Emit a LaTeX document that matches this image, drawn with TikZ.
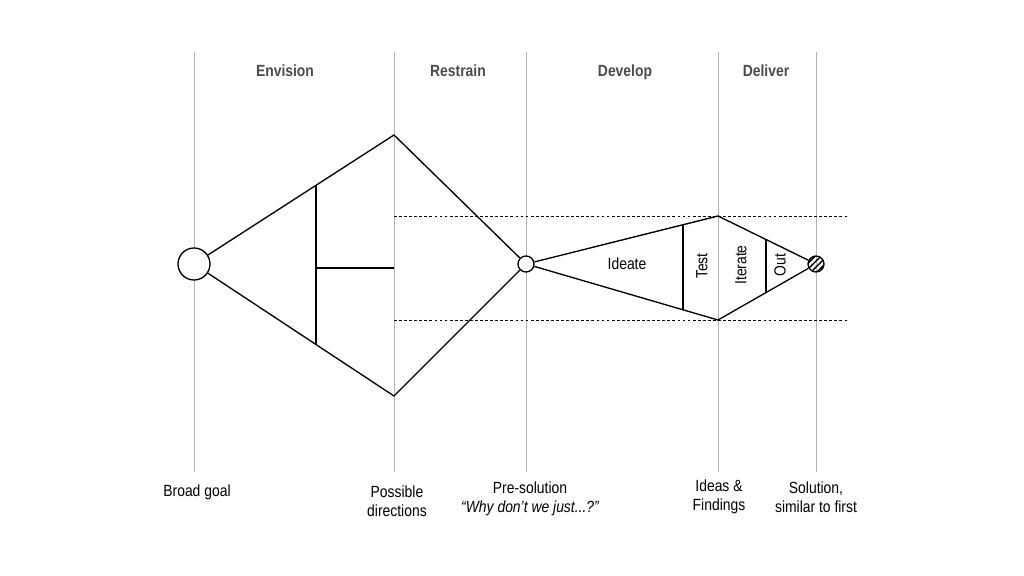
\documentclass[tikz,border=0pt]{standalone}
\usepackage{fontspec}
\setmainfont{Liberation Sans}[FakeStretch=0.86]
\usepackage{xcolor}
\usetikzlibrary{calc,positioning,patterns.meta}
\definecolor{guide}{HTML}{B4B4B4}
\definecolor{head}{HTML}{4A4A4A}

\begin{document}
\begin{tikzpicture}[x=0.025cm, y=-0.025cm,
        guideline/.style={guide, line width=0.7pt},
        edge/.style={black, line width=0.95pt},
        band/.style={black, line width=0.6pt, dash pattern=on 2pt off 1.6pt},
        phase/.style={head, anchor=base, font=\fontsize{11.5}{13}\selectfont\bfseries},
        caption/.style={align=center, font=\fontsize{11.5}{13.2}\selectfont},
        steplabel/.style={font=\fontsize{11.5}{13}\selectfont}]
        \useasboundingbox (0,0) rectangle (1024,576);

        % phase guides
        \foreach \gx/\gn in {194/g1, 394/g2, 526/g3, 718/g4, 816/g5}
            \draw [guideline] (\gx,52) coordinate (\gn top) -- (\gx,472) coordinate (\gn bot);
        \node [phase] (envision) at (285,77) {Envision};
        \node [phase] (restrain) at (458,77) {Restrain};
        \node [phase] (develop)  at (625,77) {Develop};
        \node [phase] (deliver)  at (766,77) {Deliver};

        % bands
        \draw [band] (394,216) coordinate (bandtl) -- (848,216) coordinate (bandtr);
        \draw [band] (394,320) coordinate (bandbl) -- (848,320) coordinate (bandbr);

        % big diamond
        \node [circle, draw, edge, fill=white, minimum size=32*0.025cm, inner sep=0pt] (goal) at (194,264) {};
        \node [circle, draw, edge, fill=white, minimum size=16*0.025cm, inner sep=0pt] (pre) at (526,264) {};
        \coordinate (bigtop) at (394,135);
        \coordinate (bigbot) at (394,396);
        \draw [edge] (goal) -- (bigtop) -- (pre) -- (bigbot) -- (goal);
        \draw [edge] ($(goal.center)!0.61!(bigtop)$) -- ($(goal.center)!0.61!(bigbot)$);
        \draw [edge] (316,268) -- (394,268);

        % small diamond
        \node [circle, draw, edge, inner sep=0pt, minimum size=16*0.025cm,
               pattern={Lines[angle=45, distance=3pt, line width=1.1pt]}] (sol) at (816,264) {};
        \coordinate (smalltop) at (718,216);
        \coordinate (smallbot) at (718,320);
        \draw [edge] (pre) -- (smalltop) -- (sol) -- (smallbot) -- (pre);
        \draw [edge] ($(pre.center)!0.818!(smalltop)$) -- ($(pre.center)!0.818!(smallbot)$);
        \draw [edge] ($(smalltop)!0.49!(sol.center)$) -- ($(smallbot)!0.49!(sol.center)$);
        \node [steplabel] (ideate) at (627,264) {Ideate};
        \node [steplabel, rotate=90] (test) at (702,266) {Test};
        \node [steplabel, rotate=90] (iterate) at (741,265) {Iterate};
        \node [steplabel, rotate=90] (out) at (780,265) {Out};

        % captions
        \node [caption] (broad) at (197,492) {Broad goal};
        \node [caption] (possible) at (397,501) {Possible\\directions};
        \node [caption] (presol) at (530,499) {Pre-solution\\\itshape ``Why don't we just...?''};
        \node [caption] (ideas) at (719,497) {Ideas \&\\Findings};
        \node [caption] (solution) at (816,497) {Solution,\\similar to first};

    \end{tikzpicture}
\end{document}
